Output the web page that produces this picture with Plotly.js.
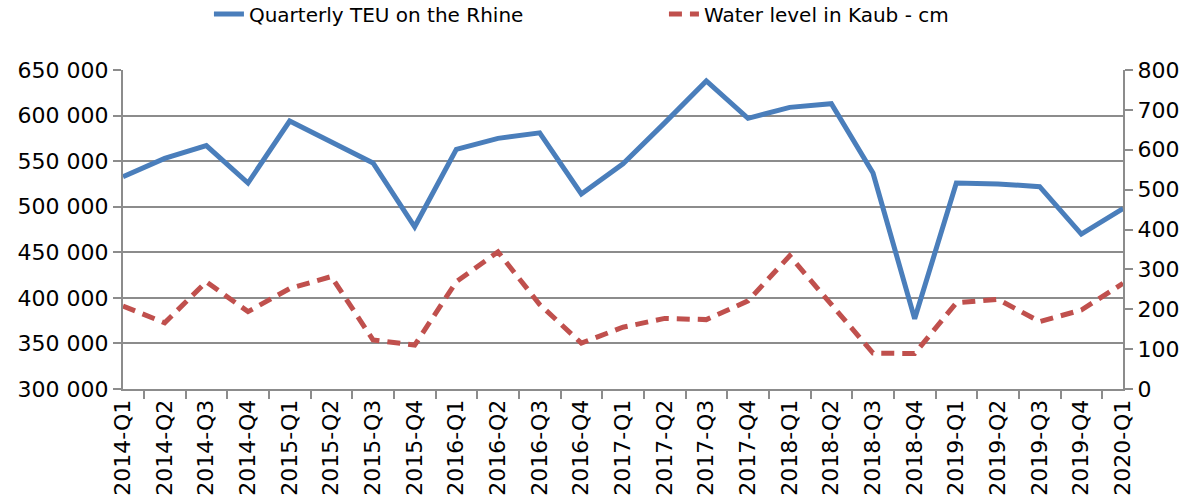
<!DOCTYPE html>
<html>
<head>
<meta charset="utf-8">
<script src="https://cdn.plot.ly/plotly-3.0.1.min.js"></script>
<style>
  html, body { margin: 0; padding: 0; background: #fff; }
  #chart { width: 1192px; height: 502px; }
</style>
</head>
<body>
<div id="chart"></div>
<script>
var quarters = ['2014-Q1', '2014-Q2', '2014-Q3', '2014-Q4',
    '2015-Q1', '2015-Q2', '2015-Q3', '2015-Q4',
    '2016-Q1', '2016-Q2', '2016-Q3', '2016-Q4',
    '2017-Q1', '2017-Q2', '2017-Q3', '2017-Q4',
    '2018-Q1', '2018-Q2', '2018-Q3', '2018-Q4',
    '2019-Q1', '2019-Q2', '2019-Q3', '2019-Q4',
    '2020-Q1'];

// TEU per quarter (left axis)
var teu = [533000, 553000, 567000, 526000,
    594000, 571000, 548000, 478000,
    563000, 575000, 581000, 514000,
    547000, 592000, 638000, 597000,
    609000, 613000, 537000, 377000,
    526000, 525000, 522000, 470000,
    498000];

// water level at Kaub in cm (right axis)
var kaub = [208, 166, 269, 194,
    252, 282, 123, 110,
    269, 344, 212, 115,
    155, 177, 174, 221,
    334, 211, 90, 89,
    216, 225, 169, 198,
    265];

var tickFont = { family: 'DejaVu Sans', size: 22, color: '#000' };
var gridCol = '#8c8c8c';

var traceTeu = {
    x: quarters,
    y: teu,
    name: 'Quarterly TEU on the Rhine',
    type: 'scatter',
    mode: 'lines',
    line: { color: '#4a7ebb', width: 5 }
};

var traceKaub = {
    x: quarters,
    y: kaub,
    name: 'Water level in Kaub - cm',
    type: 'scatter',
    mode: 'lines',
    yaxis: 'y2',
    line: { color: '#c0504d', width: 5, dash: '13px,8px' }
};

var layout = {
    width: 1192,
    height: 502,
    margin: { l: 123, r: 69, t: 70, b: 113, pad: 0 },
    separators: '. ',
    paper_bgcolor: '#fff',
    plot_bgcolor: '#fff',
    showlegend: true,
    legend: {
        orientation: 'h',
        x: 0.557,
        xref: 'container',
        xanchor: 'center',
        y: 0.972,
        yref: 'container',
        yanchor: 'middle',
        font: { family: 'DejaVu Sans', size: 20, color: '#000' },
        entrywidth: 410,
        tracegroupgap: 0
    },
    xaxis: {
        type: 'category',
        tickangle: -90,
        tickfont: tickFont,
        showgrid: false,
        showline: true,
        linecolor: gridCol,
        linewidth: 2,
        ticks: 'outside',
        tickson: 'boundaries',
        ticklen: 8,
        tickcolor: gridCol,
        tickwidth: 2
    },
    yaxis: {
        range: [300000, 650000],
        dtick: 50000,
        tickformat: ',d',
        tickfont: tickFont,
        showgrid: true,
        gridcolor: gridCol,
        gridwidth: 2,
        showline: true,
        linecolor: gridCol,
        linewidth: 2,
        ticks: 'outside',
        ticklen: 8,
        tickcolor: gridCol,
        tickwidth: 2,
        zeroline: false
    },
    yaxis2: {
        range: [0, 800],
        dtick: 100,
        overlaying: 'y',
        side: 'right',
        tickfont: tickFont,
        showgrid: false,
        showline: true,
        linecolor: gridCol,
        linewidth: 2,
        ticks: 'outside',
        ticklen: 8,
        tickcolor: gridCol,
        tickwidth: 2,
        zeroline: false
    }
};

Plotly.newPlot('chart', [traceTeu, traceKaub], layout, { staticPlot: true });
</script>
</body>
</html>
